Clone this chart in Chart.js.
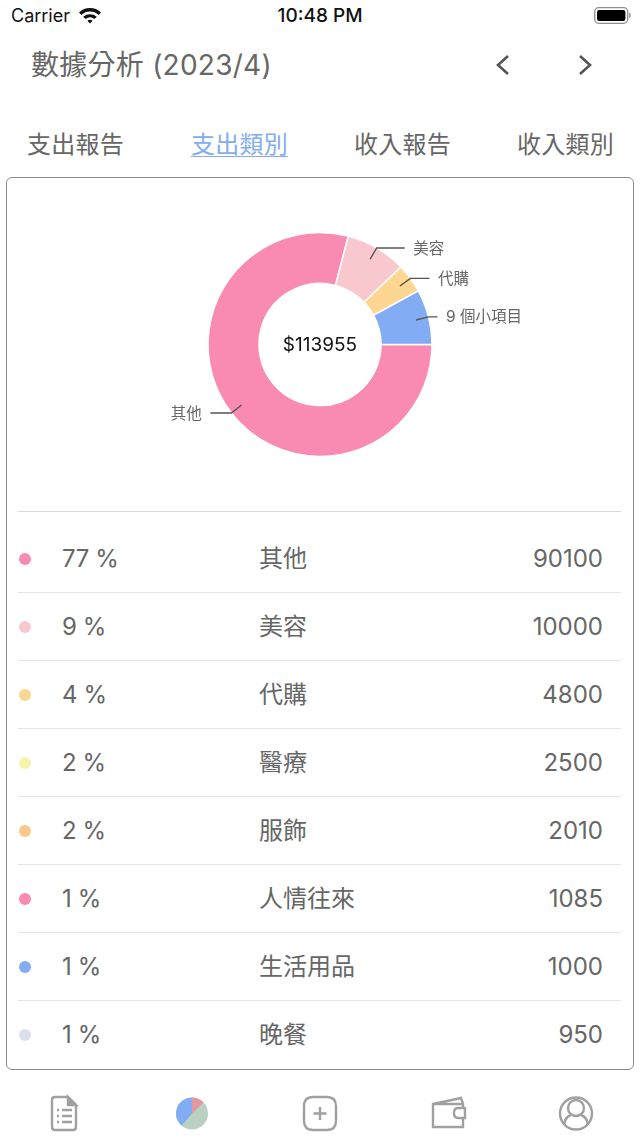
<!DOCTYPE html>
<html lang="zh-Hant">
<head>
<meta charset="UTF-8">
<title>數據分析</title>
<script src="https://cdn.jsdelivr.net/npm/chart.js"></script>
<style>
  html, body { margin: 0; padding: 0; background: #fff; }
  body { width: 640px; height: 1138px; position: relative; overflow: hidden;
         font-family: Inter, "Noto Sans CJK TC", sans-serif; color: #5f5f5f; }
  .abs { position: absolute; white-space: nowrap; }
  #carrier { left: 11px; top: 6px; font-size: 18px; line-height: 20px; color: #111; }
  #clock { left: 0; width: 640px; top: 6px; text-align: center; font-size: 19px; line-height: 20px; font-weight: 500; color: #111; }
  #title { left: 31px; top: 46px; font-size: 28px; line-height: 38px; color: #666; letter-spacing: 0.25px; }
  .tab { top: 130px; left: 0; font-size: 24px; line-height: 30px; color: #666; letter-spacing: 0.25px; }
  .tab.on { color: #82adf0; text-decoration: underline; text-underline-offset: 3px; text-decoration-thickness: 1px; }
  #card { left: 6px; top: 177px; width: 626px; height: 891px; border: 1px solid #8a8a8a; border-radius: 6px; }
  #chartBox { left: 0; top: 178px; width: 640px; height: 333px; }
  #sep { left: 18px; top: 511px; width: 603px; height: 1px; background: #d9d9d9; }
  .row { left: 18px; width: 603px; height: 68px; border-bottom: 1px solid #e4e4e4; box-sizing: border-box; }
  .row:last-child { border-bottom: none; }
  .dot { position: absolute; left: 1px; top: 28px; width: 12px; height: 12px; border-radius: 50%; }
  .pct, .cat, .amt { position: absolute; top: 18px; line-height: 32px; font-size: 24px; color: #666; }
  .pct { left: 44px; letter-spacing: -0.4px; }
  .cat { left: 241px; }
  .amt { right: 18px; }
  svg.abs { overflow: visible; }
</style>
</head>
<body>
<div class="abs" id="carrier">Carrier</div>
<svg class="abs" style="left:78px;top:6px" width="24" height="18" viewBox="0 0 24 18">
  <path d="M1 6.5 A16 16 0 0 1 23 6.5 L20.6 9 A12.6 12.6 0 0 0 3.4 9 Z M5.2 10.7 A10.6 10.6 0 0 1 18.8 10.7 L16.4 13 A7.2 7.2 0 0 0 7.6 13 Z M9.4 14.7 A4.4 4.4 0 0 1 14.6 14.7 L12 17.4 Z" fill="#111"/>
</svg>
<div class="abs" id="clock">10:48 PM</div>
<svg class="abs" style="left:594px;top:7px" width="38" height="18" viewBox="0 0 38 18">
  <rect x="0.7" y="0.7" width="33" height="15.6" rx="4" fill="none" stroke="#8e8e8e" stroke-width="1.3"/>
  <rect x="3" y="3" width="28.4" height="11" rx="2.2" fill="#000"/>
  <rect x="35" y="6" width="1.6" height="5" rx="0.8" fill="#9a9a9a"/>
</svg>

<div class="abs" id="title">數據分析 (2023/4)</div>
<svg class="abs" style="left:490px;top:52px" width="110" height="26" viewBox="0 0 110 26" fill="none" stroke="#555" stroke-width="2.6">
  <path d="M18 4 L8 13 L18 22"/>
  <path d="M90 4 L100 13 L90 22"/>
</svg>

<div class="abs tab" style="left:27px">支出報告</div>
<div class="abs tab on" style="left:191px">支出類別</div>
<div class="abs tab" style="left:354px">收入報告</div>
<div class="abs tab" style="left:517px">收入類別</div>

<div class="abs" id="card"></div>
<div class="abs" id="chartBox"><canvas id="chart" width="640" height="333"></canvas></div>
<div class="abs" id="sep"></div>
<div id="rows"></div>

<svg class="abs" style="left:0;top:1090px" width="640" height="48" viewBox="0 0 640 48" fill="none" stroke="#a0a0a0" stroke-width="2.4">
  <path d="M52 10 Q52 7 55 7 L68 7 L76 15 L76 37 Q76 40 73 40 L55 40 Q52 40 52 37 Z" fill="#fff"/>
  <path d="M68 7 L76 15 L68 15 Z" fill="#a0a0a0"/>
  <path d="M57 20 H59 M62 20 H72 M57 26 H59 M62 26 H72 M57 32 H59 M62 32 H72"/>
  <circle cx="192" cy="23.5" r="16" fill="#b9d0c2" stroke="none"/>
  <path d="M192 23.5 L192 7.5 A16 16 0 0 0 181.6 35.7 Z" fill="#82adf5" stroke="none"/>
  <path d="M192 23.5 L192 7.5 A16 16 0 0 1 203.5 12.4 Z" fill="#e39a9f" stroke="none"/>
  <path d="M313 7 H327 Q336 7 336 16 V31 Q336 40 327 40 H313 Q304 40 304 31 V16 Q304 7 313 7 Z"/>
  <path d="M320 17 V30 M313.5 23.5 H326.5"/>
  <path d="M433 14 V37 H463 V14 Z M433 14 L461 8 L463 14"/>
  <path d="M465 18 H458 Q454 18 454 23 Q454 28 458 28 H465 Z" fill="#fff"/>
  <circle cx="576" cy="23.5" r="16"/>
  <circle cx="576" cy="18" r="8"/>
  <path d="M564 35 Q565 27 571 25 M588 35 Q587 27 581 25"/>
</svg>

<script>
// slices of the donut
const sliceLabels = ['其他', '美容', '代購', '9 個小項目'];
const sliceValues = [90100, 10000, 4800, 9055];
const sliceColors = ['#f98ab1', '#f9c8ce', '#fdd692', '#82adf5'];
const totalLabel = '$113955';

// list under the chart
const listNames = ['其他', '美容', '代購', '醫療', '服飾', '人情往來', '生活用品', '晚餐'];
const listPercents = ['77 %', '9 %', '4 %', '2 %', '2 %', '1 %', '1 %', '1 %'];
const listAmounts = [90100, 10000, 4800, 2500, 2010, 1085, 1000, 950];
const listColors = ['#f98ab1', '#f8c8cf', '#fdd692', '#f7f3ae', '#fcc98a', '#f98ab1', '#82adf5', '#dcdfee'];

// horizontal part of each leader line, px
const leaderLen = [21, 28, 19, 9];

const rowsEl = document.getElementById('rows');
listNames.forEach((name, i) => {
  const row = document.createElement('div');
  row.className = 'abs row';
  row.style.top = (525 + i * 68) + 'px';
  row.innerHTML = '<span class="dot" style="background:' + listColors[i] + '"></span>' +
    '<span class="pct">' + listPercents[i] + '</span>' +
    '<span class="cat">' + name + '</span>' +
    '<span class="amt">' + listAmounts[i] + '</span>';
  rowsEl.appendChild(row);
});

const leaders = {
  id: 'leaders',
  afterDatasetsDraw(chart) {
    const ctx = chart.ctx;
    const arcs = chart.getDatasetMeta(0).data;
    ctx.save();
    arcs.forEach((arc, i) => {
      const p = arc.getProps(['x', 'y', 'startAngle', 'endAngle', 'outerRadius']);
      const mid = (p.startAngle + p.endAngle) / 2;
      const cos = Math.cos(mid), sin = Math.sin(mid);
      const dir = cos < 0 ? -1 : 1;
      const ex = p.x + p.outerRadius * cos, ey = p.y + p.outerRadius * sin;
      const endX = ex + dir * leaderLen[i];
      ctx.beginPath();
      ctx.moveTo(p.x + (p.outerRadius - 13) * cos, p.y + (p.outerRadius - 13) * sin);
      ctx.lineTo(ex, ey);
      ctx.lineTo(endX, ey);
      ctx.strokeStyle = '#555';
      ctx.lineWidth = 1.4;
      ctx.stroke();
      ctx.fillStyle = '#666';
      ctx.font = '15.5px Inter, "Noto Sans CJK TC", sans-serif';
      ctx.textBaseline = 'middle';
      ctx.textAlign = dir < 0 ? 'right' : 'left';
      ctx.fillText(sliceLabels[i], endX + dir * 8.5, ey + 1);
    });
    const c = arcs[0];
    ctx.fillStyle = '#111';
    ctx.font = '19px Inter, sans-serif';
    ctx.textAlign = 'center';
    ctx.fillText(totalLabel, c.x, c.y + 1);
    ctx.restore();
  }
};

new Chart(document.getElementById('chart'), {
  type: 'doughnut',
  data: {
    labels: sliceLabels,
    datasets: [{
      data: sliceValues,
      backgroundColor: sliceColors,
      borderColor: '#fff',
      borderWidth: 1.5,
      borderAlign: 'center'
    }]
  },
  options: {
    responsive: false,
    animation: false,
    rotation: 90,
    radius: 112,
    cutout: '54.5%',
    layout: { padding: 0 },
    plugins: { legend: { display: false }, tooltip: { enabled: false } }
  },
  plugins: [leaders]
});
</script>
</body>
</html>
